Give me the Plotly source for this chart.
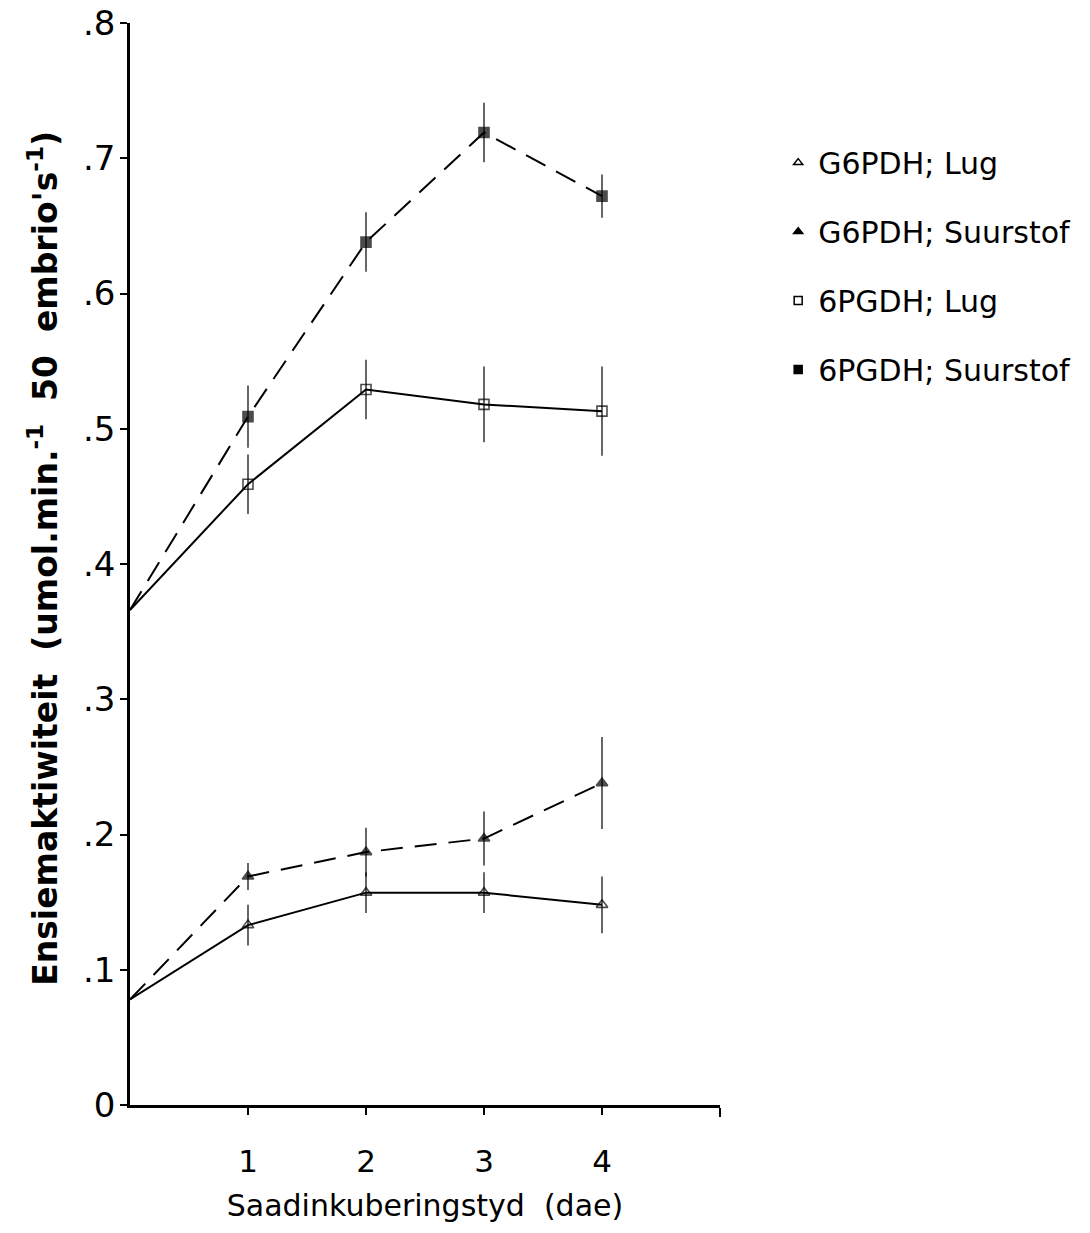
import plotly.graph_objects as go

days = [0, 1, 2, 3, 4]

g6pdh_lug = [0.078, 0.133, 0.157, 0.157, 0.148]
g6pdh_lug_err = [0, 0.015, 0.015, 0.015, 0.021]

g6pdh_suur = [0.078, 0.169, 0.187, 0.197, 0.238]
g6pdh_suur_err = [0, 0.010, 0.018, 0.020, 0.034]

pgdh_lug = [0.366, 0.459, 0.529, 0.518, 0.513]
pgdh_lug_err = [0, 0.022, 0.022, 0.028, 0.033]

pgdh_suur = [0.366, 0.509, 0.638, 0.719, 0.672]
pgdh_suur_err = [0, 0.023, 0.022, 0.022, 0.016]

series = [
    ("G6PDH; Lug", g6pdh_lug, g6pdh_lug_err, "triangle-up-open", "solid"),
    ("G6PDH; Suurstof", g6pdh_suur, g6pdh_suur_err, "triangle-up", "22px,12px"),
    ("6PGDH; Lug", pgdh_lug, pgdh_lug_err, "square-open", "solid"),
    ("6PGDH; Suurstof", pgdh_suur, pgdh_suur_err, "square", "22px,12px"),
]

xtick_vals = [1, 2, 3, 4]
xtick_text = ["1", "2", "3", "4"]
x_end_ticks = [5]
ytick_vals = [0, 0.1, 0.2, 0.3, 0.4, 0.5, 0.6, 0.7, 0.8]
ytick_text = ["0", ".1", ".2", ".3", ".4", ".5", ".6", ".7", ".8"]

fig = go.Figure()
for name, y, err, sym, dash in series:
    sizes = [0] + [10] * (len(y) - 1)
    fig.add_trace(go.Scatter(
        x=days, y=y, mode="lines+markers", showlegend=False,
        line=dict(color="black", width=2, dash=dash),
        marker=dict(symbol=sym, size=sizes, color="black",
                    line=dict(color="black", width=1.6)),
        error_y=dict(type="data", array=err, visible=True,
                     color="black", thickness=1.2, width=0),
    ))

for i, (name, y, err, sym, dash) in enumerate(series):
    fig.add_trace(go.Scatter(
        x=[None], y=[None], mode="markers", name=name,
        legendgroup=f"g{i}",
        marker=dict(symbol=sym, size=8, color="black",
                    line=dict(color="black", width=1.5)),
    ))

fig.update_layout(
    width=1090, height=1233,
    margin=dict(l=130, r=370, t=23, b=128),
    plot_bgcolor="white", paper_bgcolor="white",
    font=dict(family="DejaVu Sans", color="black"),
    legend=dict(x=1.0986, y=0.895, xanchor="left", yanchor="top",
                font=dict(size=30, family="DejaVu Sans"),
                tracegroupgap=27, traceorder="grouped",
                bgcolor="rgba(0,0,0,0)"),
    xaxis=dict(range=[0, 5], tickvals=xtick_vals, ticktext=xtick_text,
               automargin=False,
               showgrid=False, zeroline=False, showline=True,
               linecolor="black", linewidth=2.5, ticks="outside",
               ticklen=7, tickwidth=2, tickcolor="black",
               minor=dict(tickmode="array", tickvals=x_end_ticks,
                          ticks="outside", ticklen=9, tickwidth=2,
                          tickcolor="black", showgrid=False),
               tickfont=dict(size=31), ticklabelstandoff=20,
               title=dict(text="Saadinkuberingstyd  (dae)",
                          font=dict(size=30), standoff=18)),
    yaxis=dict(range=[0, 0.8], tickvals=ytick_vals, ticktext=ytick_text,
               automargin=False, ticklabeloverflow="allow",
               showgrid=False, zeroline=False, showline=True,
               linecolor="black", linewidth=2.5, ticks="outside",
               ticklen=7, tickwidth=2, tickcolor="black",
               tickfont=dict(size=34, family="DejaVu Sans"),
               ticklabelstandoff=-2),
)

fig.add_annotation(
    text="<b>Ensiemaktiwiteit  (umol.min.<sup>-1</sup>  50  embrio's<sup>-1</sup>)</b>",
    xref="paper", yref="paper", x=-0.147, y=0.505,
    xanchor="center", yanchor="middle", textangle=-90,
    showarrow=False, font=dict(size=33, family="DejaVu Sans"),
)

fig.write_html("out.html",
               config={"displayModeBar": False},
               post_script="document.body.style.margin='0';")
